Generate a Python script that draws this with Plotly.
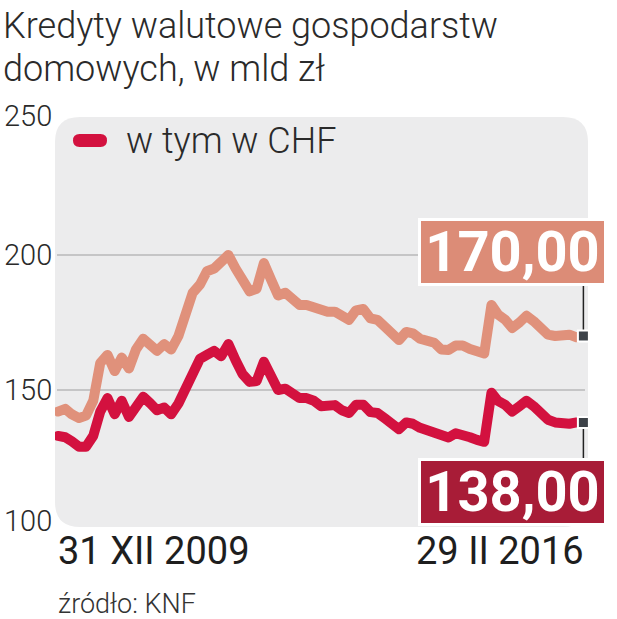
import pandas as pd
import plotly.graph_objects as go

# ---------------- data ----------------
title_lines = ["Kredyty walutowe gospodarstw", "domowych, w mld zł"]
source_text = "źródło: KNF"
series_total_name = "ogółem"
series_chf_name = "w tym w CHF"
start_date = "2009-12-31"
n_points = 75

total = [142, 143, 141, 139.6, 140.5, 146, 160, 163, 157, 162, 158, 165, 169, 167, 164.5,
         167, 165, 170, 178, 186, 189, 194, 195, 197, 200, 195, 190, 186.5, 187.5, 197,
         191, 185, 186, 184, 181.5, 181.5, 180.5, 179.5, 179, 179, 177, 176, 179.5, 180,
         176.5, 176, 173.5, 170.5, 168.5, 171.5, 171, 169, 167.8, 167.5, 165, 164.8, 166.5,
         166.5, 165.2, 164.5, 163.5, 181.5, 178, 176, 173, 175, 177.5, 175.5, 173, 170.5,
         170, 170, 170.5, 169.5, 170]
chf = [133, 132.5, 131, 129, 129, 133, 142, 147, 141, 146, 140, 143, 147.5, 145, 142.5,
       143.5, 141, 145, 150, 157, 161.5, 163, 164.5, 162.5, 167, 161, 156, 153, 153.3, 160.5,
       156, 150, 150.5, 149, 147, 147, 146, 144, 144.4, 144.4, 142.5, 141.5, 144.5, 144.5,
       141.8, 141.5, 139.5, 137.5, 135.5, 138, 137.5, 136, 135.2, 134.3, 133, 132.4, 134,
       133.5, 132.5, 131.5, 130.8, 149, 146, 144.5, 142, 144, 146, 144, 141.5, 139, 138,
       137.5, 137.5, 138, 138]
y_ticks = [100, 150, 200, 250]
grid_values = [150, 200]
roman = ["", "I", "II", "III", "IV", "V", "VI", "VII", "VIII", "IX", "X", "XI", "XII"]

dates = pd.date_range(start_date, periods=n_points, freq=pd.offsets.MonthEnd())

# ---------------- style ----------------
C_TOTAL = "#e0917b"
C_CHF = "#d3113f"
C_BOX_TOTAL = "#dc8c77"
C_BOX_CHF = "#a81c37"
C_TEXT = "#2a2a2a"
FONT = "Roboto, sans-serif"
FONT_NUM = "Roboto, sans-serif"

W, H = 617, 619
PL, PR, PT, PB = 55, 588, 117, 527   # plot area in pixels


def px(x):
    return (x - PL) / (PR - PL)


def py(y):
    return (PB - y) / (PB - PT)


def fmt(v):
    return f"{v:.2f}".replace(".", ",")


def date_label(d):
    return f"{d.day} {roman[d.month]} {d.year}"


# axis ranges so that first/last point land at 58 px / 583 px
span_days = (dates[-1] - dates[0]).days
ppd = (583.4 - 58) / span_days
x_range = [dates[0] - pd.Timedelta(days=(58 - PL) / ppd),
           dates[-1] + pd.Timedelta(days=(PR - 583.4) / ppd)]
ppu = 2.7
y_range = [200 - (PB - 255) / ppu, 200 + (255 - PT) / ppu]

fig = go.Figure()
fig.add_trace(go.Scatter(x=dates, y=total, name=series_total_name, mode="lines",
                         line=dict(color=C_TOTAL, width=10), showlegend=False,
                         hoverinfo="skip"))
fig.add_trace(go.Scatter(x=dates, y=chf, name=series_chf_name, mode="lines",
                         line=dict(color=C_CHF, width=10), showlegend=False,
                         hoverinfo="skip"))
fig.add_trace(go.Scatter(x=[dates[-1], dates[-1]], y=[total[-1], chf[-1]], mode="markers",
                         marker=dict(symbol="square", size=11, color="#3d4248",
                                     line=dict(color="white", width=2)),
                         showlegend=False, hoverinfo="skip"))

shapes = []
# rounded panel
rx, ry = 25 / (PR - PL), 25 / (PB - PT)
panel = (f"M {rx},0 L {1-rx},0 Q 1,0 1,{ry} L 1,{1-ry} Q 1,1 {1-rx},1 "
         f"L {rx},1 Q 0,1 0,{1-ry} L 0,{ry} Q 0,0 {rx},0 Z")
shapes.append(dict(type="path", path=panel, xref="paper", yref="paper",
                   fillcolor="#ececed", line=dict(width=0), layer="below"))
for g in grid_values:
    shapes.append(dict(type="line", xref="paper", yref="y", x0=px(57), x1=px(585),
                       y0=g, y1=g, line=dict(color="#b9b9b9", width=1.5), layer="below"))
# connectors from end points to value boxes
shapes.append(dict(type="line", xref="x", yref="y", x0=dates[-1], x1=dates[-1],
                   ysizemode="pixel", yanchor=total[-1], y0=0, y1=50,
                   line=dict(color="#222", width=1.5), layer="below"))
shapes.append(dict(type="line", xref="x", yref="y", x0=dates[-1], x1=dates[-1],
                   ysizemode="pixel", yanchor=chf[-1], y0=0, y1=-36,
                   line=dict(color="#222", width=1.5), layer="below"))
# legend swatch (rounded bar)
lx0, lx1, ly0, ly1, r = 73, 107, 134, 147, 6.5
swatch = (f"M {px(lx0 + r)},{py(ly0)} L {px(lx1 - r)},{py(ly0)} "
          f"Q {px(lx1)},{py(ly0)} {px(lx1)},{py((ly0 + ly1) / 2)} "
          f"Q {px(lx1)},{py(ly1)} {px(lx1 - r)},{py(ly1)} "
          f"L {px(lx0 + r)},{py(ly1)} Q {px(lx0)},{py(ly1)} {px(lx0)},{py((ly0 + ly1) / 2)} "
          f"Q {px(lx0)},{py(ly0)} {px(lx0 + r)},{py(ly0)} Z")
shapes.append(dict(type="path", path=swatch, xref="paper", yref="paper",
                   fillcolor=C_CHF, line=dict(width=0), layer="above"))

ann = []
# title (two lines)
for line_text, yc in zip(title_lines, [26, 69]):
    ann.append(dict(text=line_text, xref="paper", yref="paper", x=px(1), y=py(yc),
                    xanchor="left", yanchor="middle", showarrow=False,
                    font=dict(family=FONT, size=36, color=C_TEXT, weight=300)))
# legend text
ann.append(dict(text=series_chf_name, xref="paper", yref="paper", x=px(124), y=py(141),
                xanchor="left", yanchor="middle", showarrow=False,
                font=dict(family=FONT, size=36, color=C_TEXT, weight=300)))
# y tick labels (left aligned)
for t in y_ticks:
    ann.append(dict(text=str(t), xref="paper", yref="y", x=px(2), y=t,
                    xanchor="left", yanchor="middle", showarrow=False,
                    yshift=4 if t in (100, 250) else 0,
                    font=dict(family=FONT, size=29, color=C_TEXT, weight=300)))
# x labels
ann.append(dict(text=date_label(dates[0]), xref="x", yref="paper", x=dates[0], y=py(551),
                xanchor="left", yanchor="middle", showarrow=False, xshift=-2,
                font=dict(family=FONT, size=38, color="#1e1e1e", weight=400)))
ann.append(dict(text=date_label(dates[-1]), xref="x", yref="paper", x=dates[-1], y=py(551),
                xanchor="right", yanchor="middle", showarrow=False, xshift=3,
                font=dict(family=FONT, size=38, color="#1e1e1e", weight=400)))
# source
ann.append(dict(text=source_text, xref="paper", yref="paper", x=px(56), y=py(604),
                xanchor="left", yanchor="middle", showarrow=False,
                font=dict(family=FONT, size=27, color="#333", weight=300)))
# value boxes
ann.append(dict(text=fmt(total[-1]), xref="x", yref="y", x=dates[-1], y=total[-1],
                xanchor="right", yanchor="bottom", xshift=24, yshift=50, showarrow=False,
                bgcolor=C_BOX_TOTAL, bordercolor="white", borderwidth=3, borderpad=1,
                width=181, height=60,
                font=dict(family=FONT_NUM, size=56, color="white", weight="bold")))
ann.append(dict(text=fmt(chf[-1]), xref="x", yref="y", x=dates[-1], y=chf[-1],
                xanchor="right", yanchor="top", xshift=24, yshift=-36, showarrow=False,
                bgcolor=C_BOX_CHF, bordercolor="white", borderwidth=3, borderpad=1,
                width=181, height=60,
                font=dict(family=FONT_NUM, size=56, color="white", weight="bold")))

fig.update_layout(
    width=W, height=H,
    margin=dict(l=PL, r=W - PR, t=PT, b=H - PB, pad=0),
    paper_bgcolor="white", plot_bgcolor="rgba(0,0,0,0)",
    xaxis=dict(range=x_range, showgrid=False, zeroline=False, showticklabels=False,
               ticks="", showline=False),
    yaxis=dict(range=y_range, showgrid=False, zeroline=False, showticklabels=False,
               ticks="", showline=False),
    shapes=shapes, annotations=ann, showlegend=False,
)

fig.write_html("out.html", config={"displayModeBar": False},
               post_script="document.body.style.margin='0';"
                           "document.querySelectorAll('.js-line').forEach(function(p){"
                           "p.style.strokeLinejoin='round';p.style.strokeLinecap='round';});")
